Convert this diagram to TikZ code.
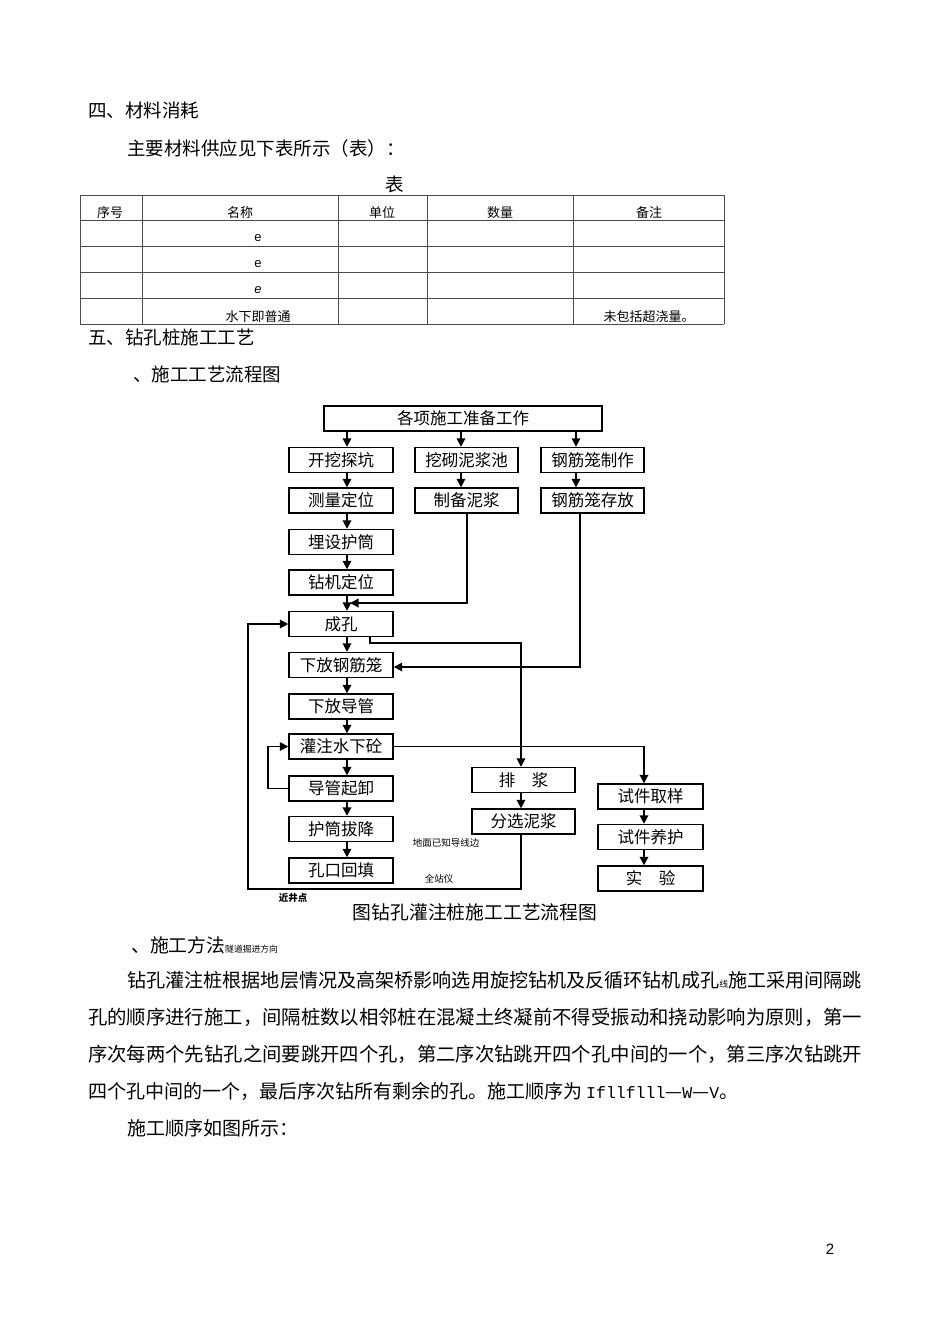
\documentclass[tikz,border=0pt]{standalone}
\usepackage{fontspec}
\setmainfont{Noto Sans CJK SC}
\newfontfamily\latinsans{Liberation Sans}
\newfontfamily\latinmono{Liberation Mono}
\usetikzlibrary{arrows.meta}
\newcommand\myfs[1]{\fontsize{#1}{#1}\selectfont}
\begin{document}
\begin{tikzpicture}[x=1pt,y=-1pt,
  txt/.style={inner sep=0pt, anchor=west},
  ctxt/.style={inner sep=0pt},
  fbox/.style={draw, line width=1.4pt, inner sep=0pt, minimum height=25pt, font=\myfs{16.5}},
  conn/.style={line width=1.8pt, -{Triangle[length=8.5pt,width=8.5pt]}},
  tline/.style={draw=black!70, line width=1pt}]
\useasboundingbox (0,0) rectangle (950,1344);
\fill[white] (0,0) rectangle (950,1344);

% ---- headings
\node[txt, font=\myfs{18.5}] (h1) at (88,110) {四、材料消耗};
\node[txt, font=\myfs{18.5}] (h2) at (127,148) {主要材料供应见下表所示（表）：};
\node[ctxt, font=\myfs{18.5}] (tt) at (395,184) {表};

% ---- table
\foreach \yy in {195,220,246,272,298,324} \draw[tline] (80,\yy) -- (724,\yy);
\foreach \xx in {80,142,338,427,573,724} \draw[tline] (\xx,195) -- (\xx,324);
\node[ctxt, font=\myfs{13}] (th1) at (110,213) {序号};
\node[ctxt, font=\myfs{13}] (th2) at (240,213) {名称};
\node[ctxt, font=\myfs{13}] (th3) at (382,213) {单位};
\node[ctxt, font=\myfs{13}] (th4) at (500,213) {数量};
\node[ctxt, font=\myfs{13}] (th5) at (649,213) {备注};
\node[ctxt, font=\latinsans\myfs{13}] (e1) at (258,238) {e};
\node[ctxt, font=\latinsans\myfs{13}] (e2) at (258,264) {e};
\node[ctxt, font=\latinsans\itshape\myfs{13}] (e3) at (258,290) {e};
\node[ctxt, font=\myfs{13}] (r4a) at (258,317) {水下即普通};
\node[ctxt, font=\myfs{13}] (r4b) at (649,317) {未包括超浇量。};

\node[txt, font=\myfs{18.5}] (h3) at (88,337) {五、钻孔桩施工工艺};
\node[txt, font=\myfs{18.5}] (h4) at (133,374) {、施工工艺流程图};

% ---- flowchart
\node[fbox, minimum width=278pt] (top) at (463,418.5) {各项施工准备工作};
\node[fbox, minimum width=104pt] (kw) at (341,460) {开挖探坑};
\node[fbox, minimum width=104pt] (cl) at (341,500.5) {测量定位};
\node[fbox, minimum width=104pt] (ms) at (341,542) {埋设护筒};
\node[fbox, minimum width=104pt] (zj) at (341,582.5) {钻机定位};
\node[fbox, minimum width=104pt] (ck) at (341,624) {成孔};
\node[fbox, minimum width=104pt] (xf) at (341,665) {下放钢筋笼};
\node[fbox, minimum width=104pt] (xd) at (341,706.5) {下放导管};
\node[fbox, minimum width=104pt] (gz) at (341,746.5) {灌注水下砼};
\node[fbox, minimum width=104pt] (dq) at (341,788.5) {导管起卸};
\node[fbox, minimum width=104pt] (hb) at (341,829) {护筒拔降};
\node[fbox, minimum width=104pt] (kk) at (341,870.5) {孔口回填};
\node[fbox, minimum width=103pt] (wq) at (466.5,460) {挖砌泥浆池};
\node[fbox, minimum width=103pt] (zb) at (466.5,500.5) {制备泥浆};
\node[fbox, minimum width=103pt] (g1) at (592.5,460) {钢筋笼制作};
\node[fbox, minimum width=103pt] (g2) at (592.5,500.5) {钢筋笼存放};
\node[fbox, minimum width=103pt] (pj) at (523.5,780) {排\hspace{1em}浆};
\node[fbox, minimum width=103pt] (fx) at (523.5,821.5) {分选泥浆};
\node[fbox, minimum width=105pt] (sq) at (650.5,796.5) {试件取样};
\node[fbox, minimum width=105pt] (sy) at (650.5,837) {试件养护};
\node[fbox, minimum width=105pt] (sx) at (650.5,878.5) {实\hspace{1em}验};

\coordinate (c1) at (347,0);
\coordinate (c2) at (461,0);
\coordinate (c3) at (576,0);
\coordinate (m2) at (467,0);
\coordinate (m3) at (580,0);
\coordinate (k1) at (370,0);
\coordinate (k2) at (521,0);
\coordinate (s1) at (644,0);
\coordinate (lp) at (268,0);
\coordinate (mudend) at (350,603);
\coordinate (rb) at (248,889);

\draw[conn] (top.south -| c1) -- (kw.north -| c1);
\draw[conn] (top.south -| c2) -- (wq.north -| c2);
\draw[conn] (top.south -| c3) -- (g1.north -| c3);
\draw[conn] (kw.south -| c1) -- (cl.north -| c1);
\draw[conn] (cl.south -| c1) -- (ms.north -| c1);
\draw[conn] (ms.south -| c1) -- (zj.north -| c1);
\draw[conn] (zj.south -| c1) -- (ck.north -| c1);
\draw[conn] (ck.south -| c1) -- (xf.north -| c1);
\draw[conn] (xf.south -| c1) -- (xd.north -| c1);
\draw[conn] (xd.south -| c1) -- (gz.north -| c1);
\draw[conn] (gz.south -| c1) -- (dq.north -| c1);
\draw[conn] (dq.south -| c1) -- (hb.north -| c1);
\draw[conn] (hb.south -| c1) -- (kk.north -| c1);
\draw[conn] (wq.south -| c2) -- (zb.north -| c2);
\draw[conn] (g1.south -| c3) -- (g2.north -| c3);
\draw[conn] (pj.south -| k2) -- (fx.north -| k2);
\draw[conn] (sq.south -| s1) -- (sy.north -| s1);
\draw[conn] (sy.south -| s1) -- (sx.north -| s1);

% mud supply
\draw[conn] (zb.south -| m2) |- (mudend);
% cage
\draw[conn] (g2.south -| m3) |- ([yshift=-2pt]xf.east);
% hole -> slurry discharge
\draw[conn] (ck.south -| k1) -- ++(0,6) -| (pj.north -| k2);
% recycle
\draw[conn] (fx.south -| k2) |- (rb) |- (ck.west);
% concrete -> specimen
\draw[conn] (gz.east) -| (sq.north -| s1);
% loop
\draw[conn] (dq.west) -- (dq.west -| lp) |- (gz.west);

\node[ctxt, font=\myfs{9.5}] (lb1) at (446,843) {地面已知导线边};
\node[ctxt, font=\myfs{9.5}] (lb2) at (439,879) {全站仪};
\node[ctxt, font=\bfseries\myfs{9.5}] (lb3) at (293,898) {近井点};
\node[ctxt, font=\myfs{18.8}] (cap) at (475,912) {图钻孔灌注桩施工工艺流程图};

% ---- body text
\node[txt, font=\myfs{18.8}] (h5) at (131,945) {、施工方法{\myfs{8.8}隧道掘进方向}};
\node[txt, font=\myfs{19.1}] (b1) at (127,980) {钻孔灌注桩根据地层情况及高架桥影响选用旋挖钻机及反循环钻机成孔{\myfs{8.8}线}施工采用间隔跳};
\node[txt, font=\myfs{19.35}] (b2) at (88,1017) {孔的顺序进行施工，间隔桩数以相邻桩在混凝土终凝前不得受振动和挠动影响为原则，第一};
\node[txt, font=\myfs{19.35}] (b3) at (88,1054) {序次每两个先钻孔之间要跳开四个孔，第二序次钻跳开四个孔中间的一个，第三序次钻跳开};
\node[txt, font=\myfs{19}] (b4) at (88,1091) {四个孔中间的一个，最后序次钻所有剩余的孔。施工顺序为\hspace{4pt}{\latinmono\myfs{16.5}Ifllflll}—{\latinmono\myfs{16.5}W}—{\latinmono\myfs{16.5}V}。};
\node[txt, font=\myfs{19}] (b5) at (127,1128) {施工顺序如图所示：};
\node[ctxt, font=\latinsans\myfs{15}] (pg) at (830,1249) {2};
\end{tikzpicture}
\end{document}
